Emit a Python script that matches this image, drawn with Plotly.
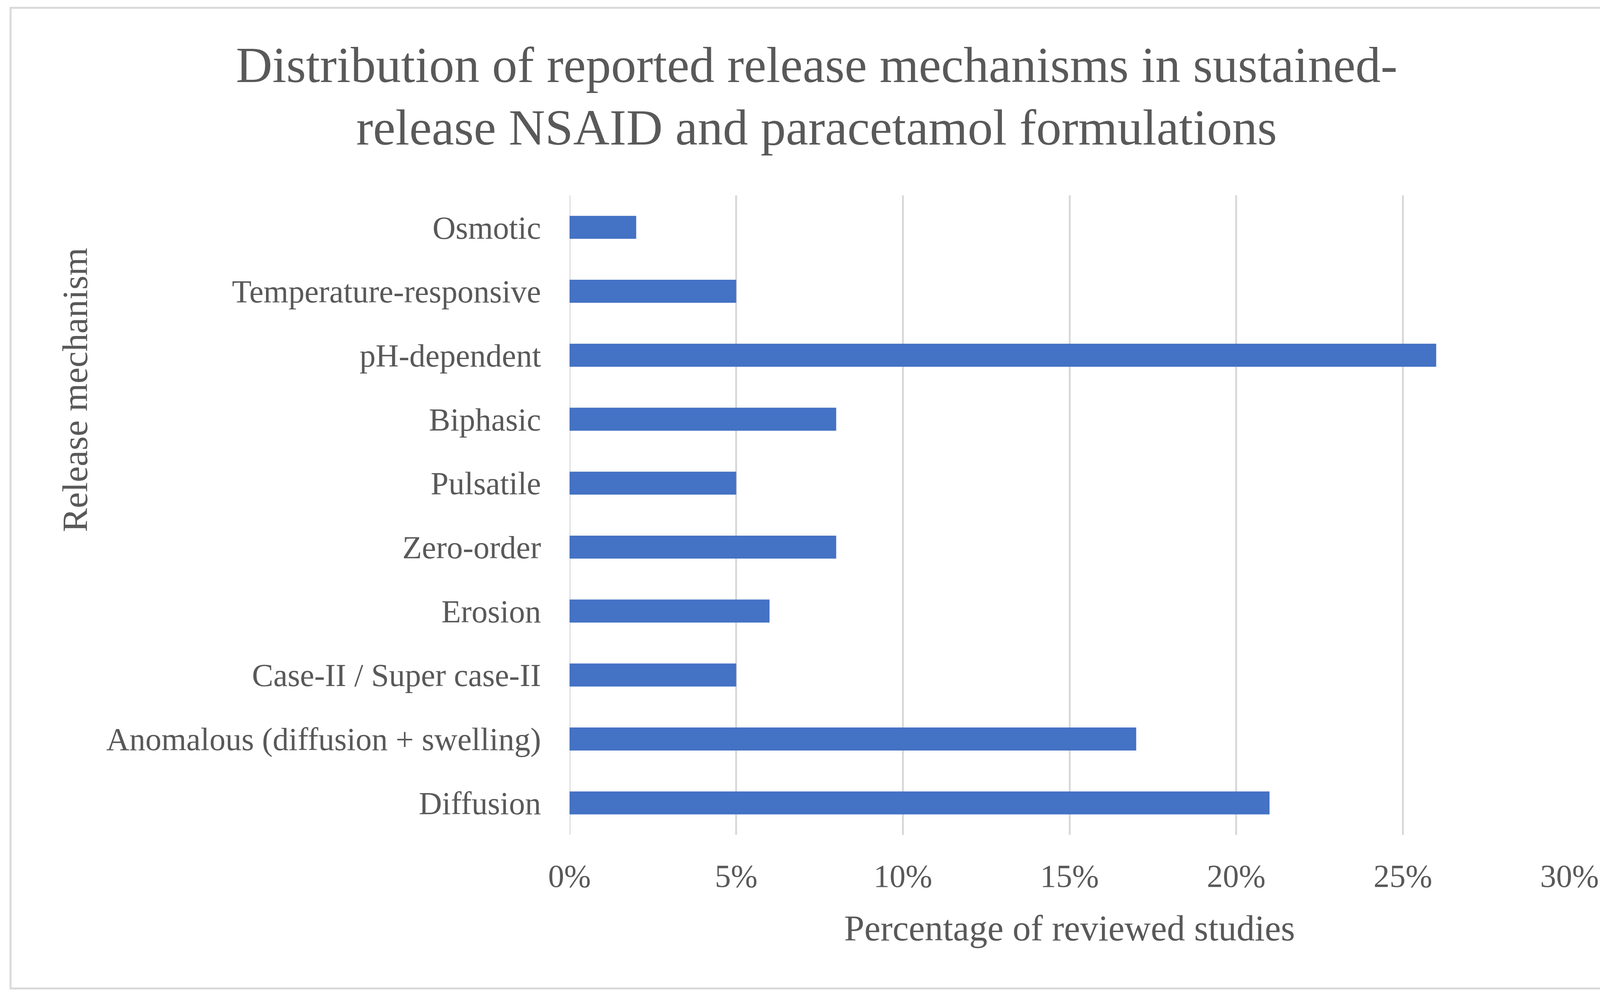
import plotly.graph_objects as go

categories = ["Diffusion", "Anomalous (diffusion + swelling)", "Case-II / Super case-II",
              "Erosion", "Zero-order", "Pulsatile", "Biphasic", "pH-dependent",
              "Temperature-responsive", "Osmotic"]
values = [21, 17, 5, 6, 8, 5, 8, 26, 5, 2]
x_ticks = [0, 5, 10, 15, 20, 25, 30]
x_tick_labels = ["0%", "5%", "10%", "15%", "20%", "25%", "30%"]
title_lines = ["Distribution of reported release mechanisms in sustained-",
               "release NSAID and paracetamol formulations"]

W, H = 4186, 2557
FONT = "Liberation Serif"
TXT = "#595959"
GRID = "#D9D9D9"

fig = go.Figure(go.Bar(
    x=values, y=categories, orientation="h",
    marker=dict(color="#4472C4", line=dict(width=0)),
))

annotations = [
    dict(text=title_lines[0], xref="paper", yref="paper", x=0.4995, y=1 - 167 / H,
         xanchor="center", yanchor="middle", showarrow=False,
         font=dict(family=FONT, size=129, color=TXT)),
    dict(text=title_lines[1], xref="paper", yref="paper", x=0.4995, y=1 - 326 / H,
         xanchor="center", yanchor="middle", showarrow=False,
         font=dict(family=FONT, size=129, color=TXT)),
    dict(text="Percentage of reviewed studies",
         xref="paper", yref="paper", x=2738 / W, y=1 - 2375 / H,
         xanchor="center", yanchor="middle", showarrow=False,
         font=dict(family=FONT, size=93, color=TXT)),
    dict(text="Release mechanism", textangle=-90,
         xref="paper", yref="paper", x=192 / W, y=1 - 998 / H,
         xanchor="center", yanchor="middle", showarrow=False,
         font=dict(family=FONT, size=92, color=TXT)),
]

fig.update_layout(
    width=W, height=H,
    margin=dict(l=0, r=0, t=0, b=0),
    paper_bgcolor="white", plot_bgcolor="white",
    bargap=0.64,
    showlegend=False,
    font=dict(family=FONT, color=TXT),
    xaxis=dict(
        domain=[1458 / W, 4018 / W],
        range=[0, 30], tickvals=x_ticks, ticktext=x_tick_labels,
        showgrid=True, gridcolor=GRID, gridwidth=5,
        zeroline=False, showline=False, automargin=False,
        tickfont=dict(family=FONT, size=82, color=TXT),
        ticks="", ticklabelstandoff=50,
    ),
    yaxis=dict(
        domain=[1 - 2137 / H, 1 - 500 / H],
        range=[-0.5, 9.5],
        showgrid=False, zeroline=False, showline=False, automargin=False,
        tickfont=dict(family=FONT, size=82, color=TXT),
        ticks="", ticklabelstandoff=72,
    ),
    shapes=[
        dict(type="rect", xref="paper", yref="paper",
             x0=27 / W, x1=4176 / W, y0=1 - 2530 / H, y1=1 - 20 / H,
             line=dict(color=GRID, width=5), fillcolor="rgba(0,0,0,0)", layer="below"),
        dict(type="line", xref="x", yref="paper", x0=0, x1=0,
             y0=1 - 2137 / H, y1=1 - 500 / H,
             line=dict(color=GRID, width=5), layer="below"),
    ],
    annotations=annotations,
)

fig.write_html("out.html",
               config={"displayModeBar": False},
               post_script="document.body.style.margin='0';document.body.style.overflow='hidden';")
